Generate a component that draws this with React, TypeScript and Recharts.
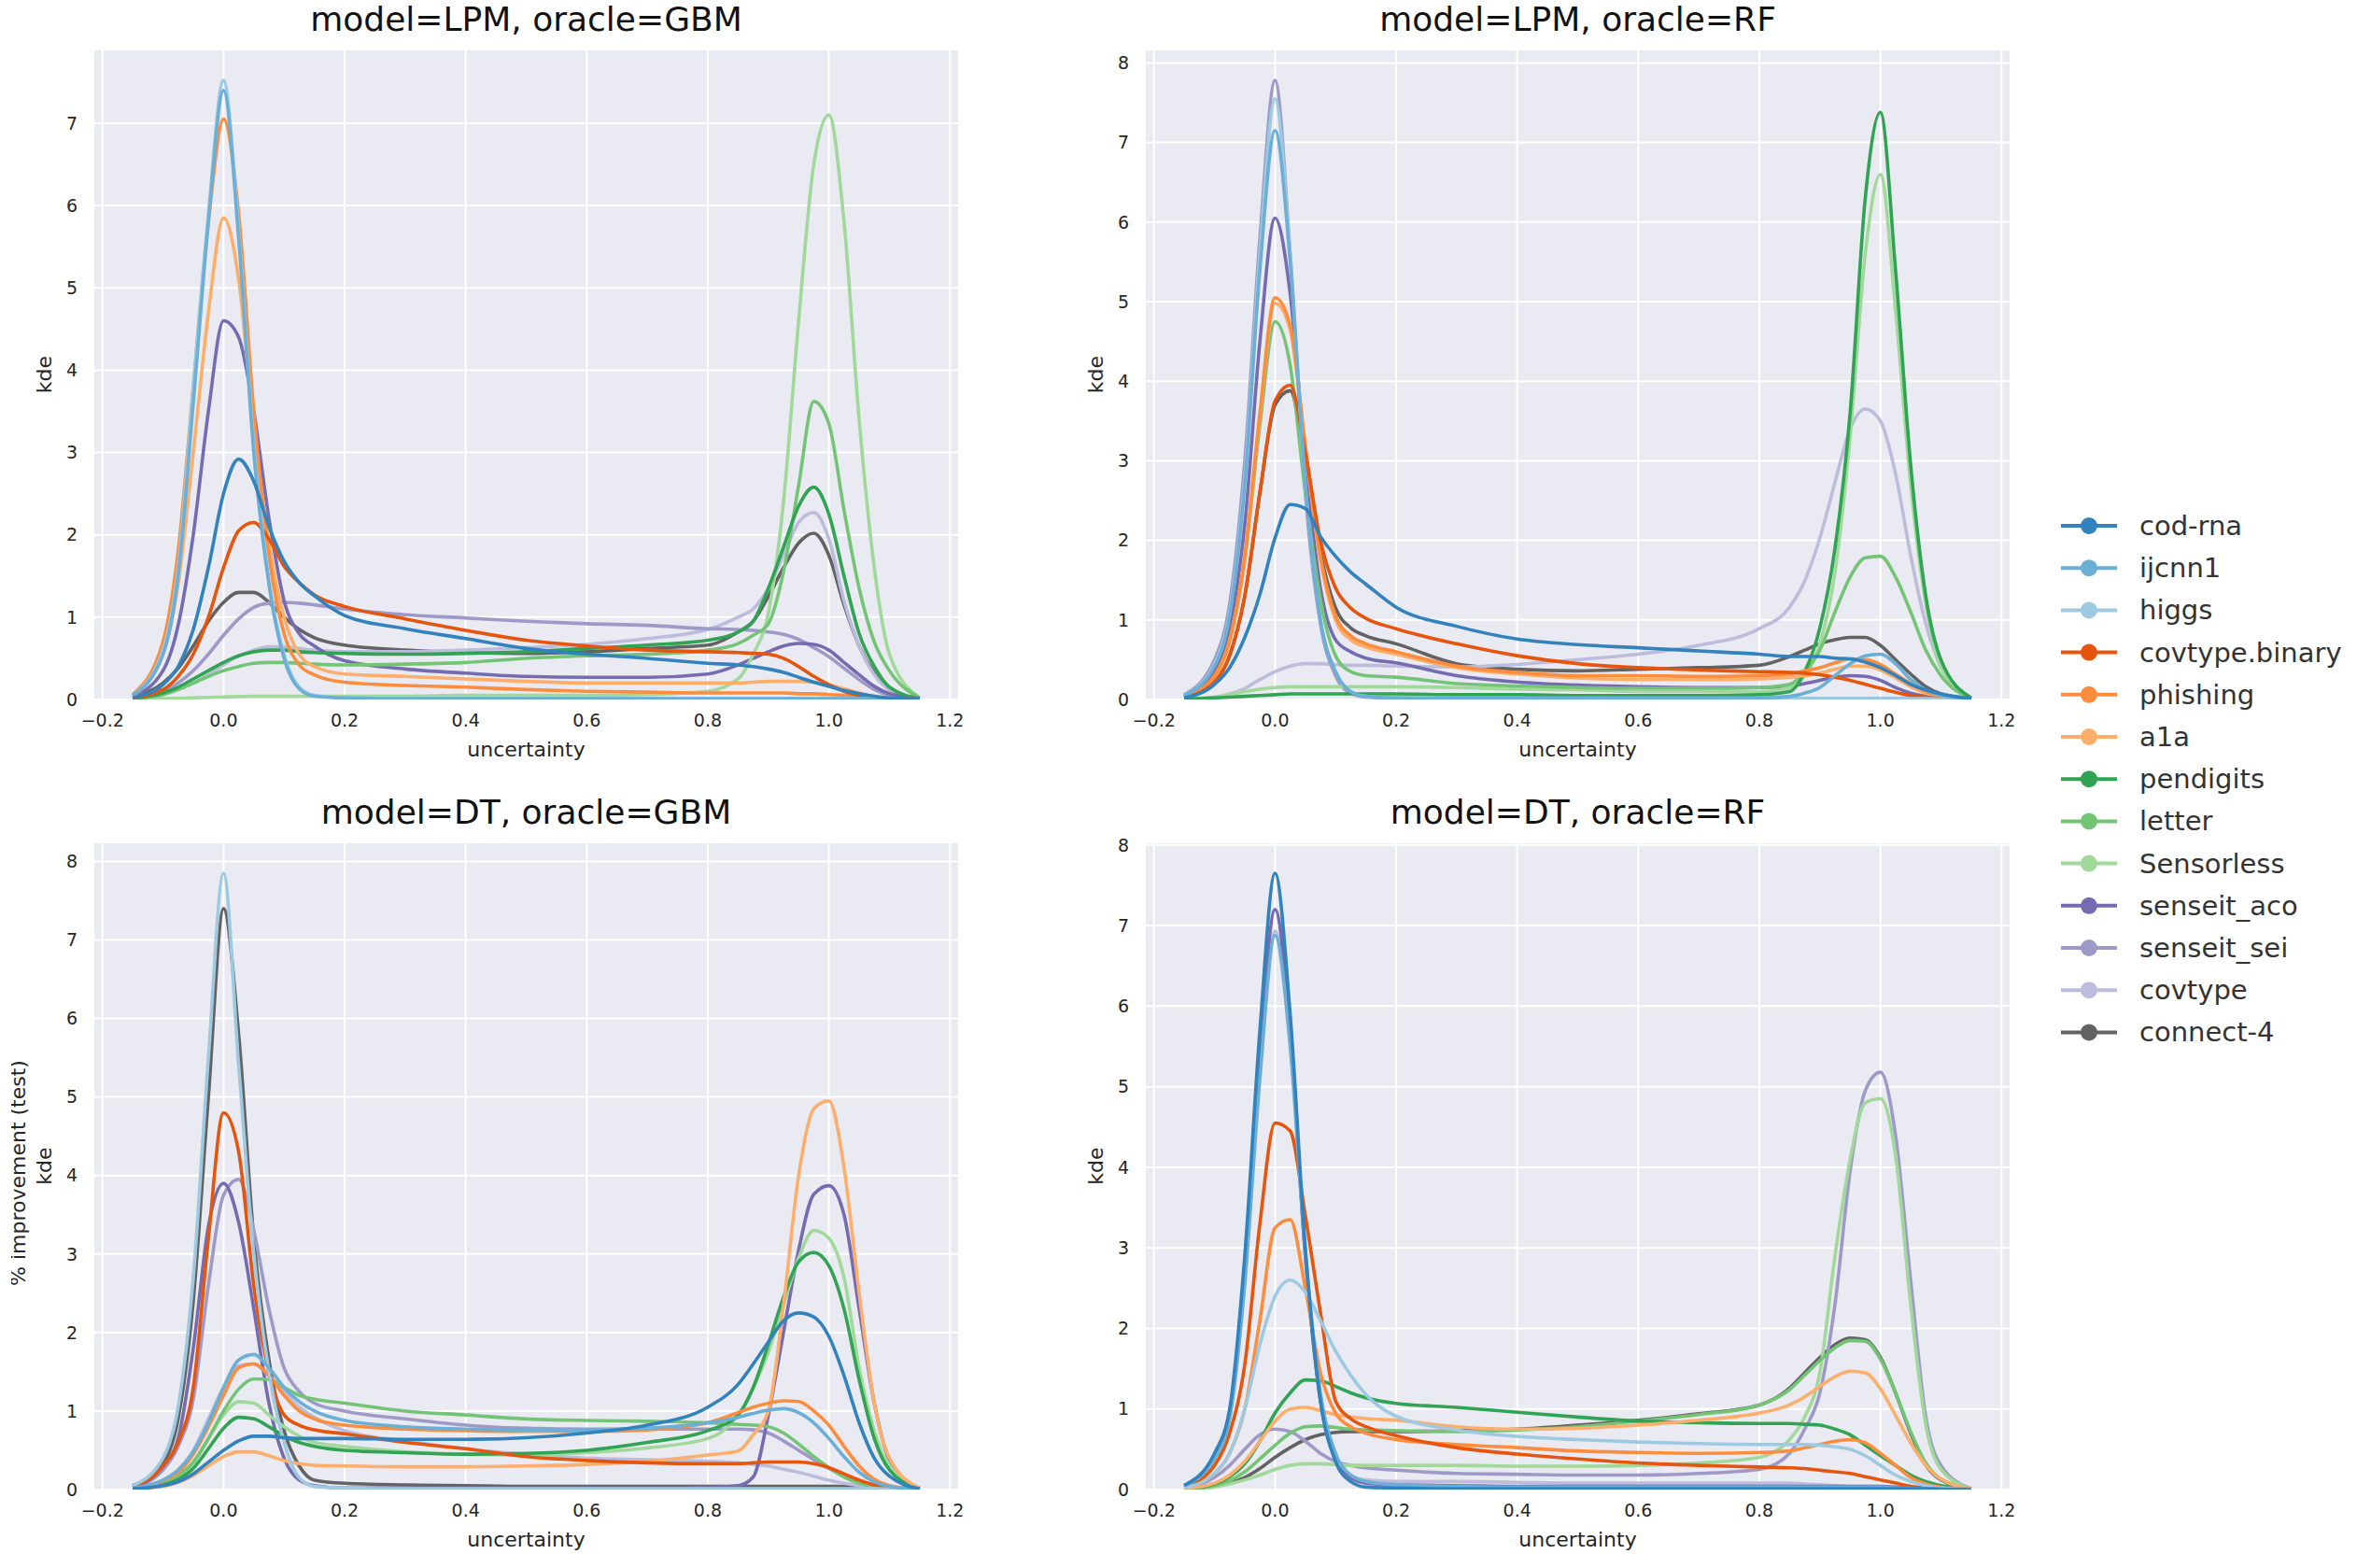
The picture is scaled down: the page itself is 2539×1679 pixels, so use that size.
import React from "react";
import { LineChart, Line, XAxis, YAxis, CartesianGrid } from "recharts";

// evaluation grid on the uncertainty axis (shared by every curve)
const UNCERTAINTY = [
  -0.15, -0.1, -0.075, -0.05, -0.025,
  0, 0.025, 0.05, 0.075, 0.1, 0.125, 0.15,
  0.2, 0.3, 0.4, 0.5, 0.6, 0.7, 0.8,
  0.85, 0.875, 0.9, 0.925, 0.95, 0.975,
  1.0, 1.025, 1.05, 1.075, 1.1, 1.15,
];

const DATASETS = [
  "cod-rna", "ijcnn1", "higgs", "covtype.binary", "phishing", "a1a", "pendigits",
  "letter", "Sensorless", "senseit_aco", "senseit_sei", "covtype", "connect-4",
];

const COLORS = [
  "#3182bd", "#6baed6", "#9ecae1", "#e6550d", "#fd8d3c", "#fdae6b", "#31a354",
  "#74c476", "#a1d99b", "#756bb1", "#9e9ac8", "#bcbddc", "#636363",
];

const X_TICKS = [-0.2, 0, 0.2, 0.4, 0.6, 0.8, 1.0, 1.2];
const Y_TICKS_7 = [0, 1, 2, 3, 4, 5, 6, 7];
const Y_TICKS_8 = [0, 1, 2, 3, 4, 5, 6, 7, 8];

// ---- model=LPM, oracle=GBM ----
const lpmGbmCodRna = [0.02, 0.18, 0.4, 0.85, 1.6, 2.5, 2.92, 2.65, 2.1, 1.68, 1.42, 1.26, 1.02, 0.86, 0.74, 0.62, 0.55, 0.5, 0.44, 0.42, 0.4, 0.37, 0.33, 0.27, 0.21, 0.16, 0.11, 0.07, 0.04, 0.02, 0.01];
const lpmGbmIjcnn1 = [0.05, 0.55, 1.5, 3.6, 5.8, 7.4, 5.6, 3.0, 1.4, 0.5, 0.13, 0.04, 0.02, 0.01, 0.01, 0.01, 0.01, 0.01, 0.01, 0.01, 0.01, 0.01, 0.01, 0.01, 0.01, 0.01, 0.01, 0.01, 0.01, 0.005, 0];
const lpmGbmHiggs = [0.05, 0.6, 1.6, 3.8, 5.9, 7.52, 5.7, 3.1, 1.45, 0.55, 0.15, 0.05, 0.02, 0.01, 0.01, 0.01, 0.01, 0.01, 0.01, 0.01, 0.01, 0.01, 0.01, 0.01, 0.01, 0.01, 0.01, 0.01, 0.01, 0.005, 0];
const lpmGbmCovtypeBinary = [0.02, 0.12, 0.28, 0.55, 1.0, 1.6, 2.05, 2.15, 1.95, 1.62, 1.42, 1.27, 1.13, 0.98, 0.84, 0.72, 0.65, 0.6, 0.58, 0.57, 0.56, 0.55, 0.5, 0.4, 0.28, 0.18, 0.1, 0.05, 0.03, 0.01, 0.005];
const lpmGbmPhishing = [0.06, 0.7, 1.8, 3.8, 5.8, 7.05, 5.9, 3.5, 1.75, 0.8, 0.42, 0.3, 0.21, 0.17, 0.15, 0.12, 0.1, 0.09, 0.08, 0.08, 0.08, 0.08, 0.08, 0.07, 0.07, 0.06, 0.05, 0.03, 0.02, 0.01, 0.005];
const lpmGbmA1a = [0.05, 0.55, 1.4, 3.0, 4.7, 5.85, 5.1, 3.3, 1.9, 1.0, 0.55, 0.4, 0.31, 0.28, 0.25, 0.22, 0.2, 0.2, 0.2, 0.2, 0.21, 0.22, 0.22, 0.22, 0.21, 0.18, 0.13, 0.08, 0.04, 0.02, 0.005];
const lpmGbmPendigits = [0.01, 0.08, 0.15, 0.25, 0.35, 0.45, 0.53, 0.58, 0.6, 0.6, 0.58, 0.57, 0.56, 0.55, 0.56, 0.58, 0.62, 0.66, 0.72, 0.82, 0.95, 1.35, 1.85, 2.35, 2.58, 2.25, 1.5, 0.8, 0.4, 0.15, 0.01];
const lpmGbmLetter = [0.01, 0.06, 0.12, 0.2, 0.28, 0.35, 0.4, 0.44, 0.45, 0.45, 0.44, 0.43, 0.42, 0.43, 0.45, 0.5, 0.53, 0.55, 0.6, 0.68, 0.78, 0.92, 1.55, 2.6, 3.62, 3.35, 2.3, 1.35, 0.7, 0.35, 0.02];
const lpmGbmSensorless = [0.005, 0.01, 0.015, 0.02, 0.025, 0.03, 0.035, 0.04, 0.04, 0.04, 0.04, 0.04, 0.04, 0.04, 0.05, 0.05, 0.05, 0.06, 0.1, 0.25, 0.55, 1.05, 2.4, 4.6, 6.5, 7.1, 5.8, 3.4, 1.6, 0.55, 0.02];
const lpmGbmSenseitAco = [0.04, 0.35, 0.9, 2.0, 3.5, 4.6, 4.4, 3.5, 2.2, 1.2, 0.8, 0.65, 0.47, 0.37, 0.32, 0.28, 0.27, 0.27, 0.31, 0.42, 0.5, 0.58, 0.65, 0.68, 0.67, 0.6, 0.45, 0.3, 0.16, 0.07, 0.01];
const lpmGbmSenseitSei = [0.02, 0.1, 0.2, 0.35, 0.55, 0.78, 0.98, 1.12, 1.17, 1.18, 1.17, 1.15, 1.1, 1.03, 0.99, 0.95, 0.92, 0.9, 0.86, 0.85, 0.84, 0.82, 0.79, 0.73, 0.63, 0.52, 0.38, 0.24, 0.12, 0.05, 0.01];
const lpmGbmCovtype = [0.01, 0.06, 0.12, 0.2, 0.3, 0.42, 0.53, 0.6, 0.64, 0.64, 0.62, 0.6, 0.58, 0.58, 0.6, 0.63, 0.67, 0.74, 0.85, 1.0, 1.1, 1.35, 1.75, 2.15, 2.27, 1.95, 1.2, 0.65, 0.3, 0.12, 0.01];
const lpmGbmConnect4 = [0.03, 0.2, 0.38, 0.65, 0.95, 1.18, 1.3, 1.3, 1.18, 1.0, 0.85, 0.75, 0.66, 0.6, 0.57, 0.56, 0.58, 0.62, 0.66, 0.82, 0.95, 1.25, 1.6, 1.9, 2.02, 1.75, 1.15, 0.65, 0.32, 0.12, 0.01];

// ---- model=LPM, oracle=RF ----
const lpmRfCodRna = [0.02, 0.19, 0.4, 0.78, 1.32, 2.03, 2.45, 2.4, 2.05, 1.8, 1.6, 1.45, 1.16, 0.92, 0.76, 0.69, 0.65, 0.61, 0.57, 0.54, 0.54, 0.54, 0.52, 0.51, 0.47, 0.4, 0.3, 0.19, 0.12, 0.07, 0.01];
const lpmRfIjcnn1 = [0.05, 0.42, 1.05, 2.7, 5.4, 7.15, 5.5, 2.7, 1.0, 0.35, 0.1, 0.04, 0.02, 0.02, 0.02, 0.02, 0.02, 0.02, 0.02, 0.04, 0.08, 0.15, 0.3, 0.45, 0.55, 0.57, 0.45, 0.25, 0.12, 0.05, 0.01];
const lpmRfHiggs = [0.05, 0.45, 1.1, 2.8, 5.6, 7.55, 5.6, 2.7, 1.0, 0.35, 0.1, 0.04, 0.02, 0.01, 0.01, 0.01, 0.01, 0.01, 0.01, 0.01, 0.01, 0.01, 0.01, 0.01, 0.01, 0.01, 0.01, 0.01, 0.01, 0.005, 0];
const lpmRfCovtypeBinary = [0.02, 0.22, 0.55, 1.3, 2.6, 3.75, 3.95, 3.1, 2.0, 1.4, 1.15, 1.02, 0.89, 0.7, 0.55, 0.45, 0.4, 0.37, 0.35, 0.34, 0.33, 0.31, 0.28, 0.24, 0.19, 0.14, 0.09, 0.05, 0.03, 0.01, 0.005];
const lpmRfPhishing = [0.03, 0.3, 0.75, 1.8, 3.6, 5.05, 4.7, 3.2, 1.8, 1.05, 0.8, 0.7, 0.6, 0.42, 0.34, 0.3, 0.3, 0.29, 0.3, 0.32, 0.36, 0.4, 0.46, 0.51, 0.5, 0.44, 0.32, 0.2, 0.1, 0.05, 0.01];
const lpmRfA1a = [0.03, 0.28, 0.72, 1.75, 3.55, 4.98, 4.65, 3.15, 1.75, 1.0, 0.75, 0.66, 0.57, 0.4, 0.32, 0.27, 0.25, 0.25, 0.26, 0.28, 0.3, 0.33, 0.38, 0.42, 0.42, 0.37, 0.27, 0.16, 0.08, 0.04, 0.01];
const lpmRfPendigits = [0.005, 0.02, 0.03, 0.04, 0.05, 0.06, 0.07, 0.07, 0.07, 0.07, 0.07, 0.07, 0.07, 0.06, 0.06, 0.05, 0.05, 0.05, 0.06, 0.1, 0.35, 0.9, 1.9, 3.6, 6.3, 7.38, 5.4, 2.95, 1.3, 0.5, 0.02];
const lpmRfLetter = [0.03, 0.3, 0.75, 1.75, 3.45, 4.75, 4.2, 2.6, 1.25, 0.55, 0.35, 0.3, 0.28, 0.2, 0.17, 0.15, 0.14, 0.14, 0.15, 0.19, 0.35, 0.62, 1.1, 1.54, 1.78, 1.8, 1.54, 1.1, 0.62, 0.3, 0.01];
const lpmRfSensorless = [0.005, 0.03, 0.06, 0.1, 0.13, 0.15, 0.16, 0.16, 0.16, 0.16, 0.16, 0.16, 0.16, 0.15, 0.13, 0.12, 0.1, 0.1, 0.1, 0.15, 0.3, 0.7, 1.6, 3.3, 5.6, 6.6, 4.9, 2.7, 1.2, 0.4, 0.02];
const lpmRfSenseitAco = [0.04, 0.35, 0.9, 2.2, 4.5, 6.05, 5.1, 3.0, 1.4, 0.75, 0.6, 0.52, 0.46, 0.3, 0.22, 0.18, 0.16, 0.15, 0.15, 0.17, 0.2, 0.24, 0.28, 0.3, 0.29, 0.24, 0.15, 0.08, 0.04, 0.02, 0.005];
const lpmRfSenseitSei = [0.06, 0.5, 1.2, 3.0, 5.8, 7.78, 5.6, 2.6, 0.95, 0.3, 0.08, 0.03, 0.02, 0.01, 0.01, 0.01, 0.01, 0.01, 0.01, 0.01, 0.01, 0.01, 0.01, 0.01, 0.01, 0.01, 0.01, 0.01, 0.01, 0.005, 0];
const lpmRfCovtype = [0.005, 0.03, 0.07, 0.14, 0.25, 0.35, 0.42, 0.45, 0.45, 0.44, 0.43, 0.43, 0.42, 0.41, 0.44, 0.5, 0.57, 0.68, 0.89, 1.16, 1.49, 2.03, 2.73, 3.4, 3.65, 3.5, 2.84, 1.81, 0.95, 0.41, 0.01];
const lpmRfConnect4 = [0.02, 0.22, 0.55, 1.3, 2.6, 3.7, 3.88, 3.0, 1.85, 1.15, 0.9, 0.8, 0.7, 0.45, 0.38, 0.36, 0.38, 0.4, 0.43, 0.54, 0.62, 0.7, 0.75, 0.78, 0.78, 0.68, 0.5, 0.32, 0.16, 0.07, 0.01];

// ---- model=DT, oracle=GBM ----
const dtGbmCodRna = [0.01, 0.05, 0.1, 0.2, 0.35, 0.5, 0.62, 0.68, 0.68, 0.66, 0.65, 0.65, 0.65, 0.64, 0.64, 0.66, 0.72, 0.82, 1.05, 1.34, 1.6, 1.88, 2.15, 2.25, 2.2, 1.95, 1.45, 0.85, 0.4, 0.17, 0.01];
const dtGbmIjcnn1 = [0.02, 0.12, 0.25, 0.48, 0.85, 1.3, 1.65, 1.72, 1.55, 1.3, 1.12, 1.0, 0.88, 0.8, 0.77, 0.76, 0.76, 0.78, 0.85, 0.92, 0.97, 1.01, 1.03, 0.98, 0.85, 0.65, 0.42, 0.22, 0.1, 0.04, 0.005];
const dtGbmHiggs = [0.05, 0.4, 1.05, 2.7, 5.5, 7.85, 5.4, 3.0, 1.5, 0.6, 0.15, 0.04, 0.02, 0.01, 0.01, 0.01, 0.01, 0.01, 0.01, 0.01, 0.01, 0.01, 0.01, 0.01, 0.01, 0.01, 0.01, 0.01, 0.01, 0.005, 0];
const dtGbmCovtypeBinary = [0.03, 0.3, 0.6, 1.3, 3.2, 4.8, 4.3, 2.6, 1.5, 0.95, 0.82, 0.76, 0.71, 0.6, 0.52, 0.42, 0.37, 0.34, 0.33, 0.33, 0.34, 0.35, 0.35, 0.35, 0.33, 0.28, 0.2, 0.12, 0.06, 0.03, 0.005];
const dtGbmPhishing = [0.02, 0.11, 0.22, 0.45, 0.8, 1.2, 1.55, 1.6, 1.45, 1.2, 1.0, 0.9, 0.82, 0.77, 0.75, 0.74, 0.74, 0.76, 0.85, 0.98, 1.05, 1.1, 1.13, 1.12, 1.0, 0.82, 0.55, 0.3, 0.13, 0.05, 0.005];
const dtGbmA1a = [0.01, 0.04, 0.09, 0.18, 0.3, 0.42, 0.48, 0.48, 0.43, 0.37, 0.33, 0.31, 0.3, 0.29, 0.29, 0.3, 0.32, 0.36, 0.44, 0.49, 0.7, 1.0, 2.35, 4.0, 4.85, 4.95, 4.1, 2.5, 1.1, 0.4, 0.02];
const dtGbmPendigits = [0.01, 0.06, 0.13, 0.27, 0.52, 0.78, 0.92, 0.9, 0.8, 0.68, 0.6, 0.55, 0.5, 0.47, 0.45, 0.46, 0.5, 0.6, 0.75, 0.95, 1.3, 1.85, 2.45, 2.9, 3.02, 2.85, 2.3, 1.4, 0.65, 0.25, 0.01];
const dtGbmLetter = [0.01, 0.08, 0.18, 0.35, 0.65, 1.0, 1.28, 1.41, 1.4, 1.3, 1.2, 1.15, 1.1, 1.0, 0.95, 0.9, 0.88, 0.87, 0.85, 0.83, 0.82, 0.8, 0.72, 0.58, 0.42, 0.28, 0.16, 0.08, 0.04, 0.015, 0.005];
const dtGbmSensorless = [0.01, 0.07, 0.16, 0.33, 0.65, 0.95, 1.12, 1.1, 0.95, 0.8, 0.68, 0.6, 0.55, 0.48, 0.45, 0.44, 0.47, 0.53, 0.65, 0.95, 1.3, 1.75, 2.35, 2.95, 3.3, 3.2, 2.7, 1.55, 0.75, 0.3, 0.01];
const dtGbmSenseitAco = [0.03, 0.3, 0.65, 1.8, 3.35, 3.9, 3.4, 2.3, 1.1, 0.4, 0.12, 0.05, 0.02, 0.02, 0.02, 0.02, 0.02, 0.02, 0.03, 0.05, 0.16, 0.95, 2.0, 3.05, 3.76, 3.87, 3.5, 2.3, 1.1, 0.38, 0.01];
const dtGbmSenseitSei = [0.03, 0.25, 0.55, 1.15, 2.6, 3.75, 3.95, 3.3, 2.3, 1.55, 1.25, 1.1, 1.0, 0.9, 0.82, 0.78, 0.77, 0.77, 0.77, 0.77, 0.76, 0.72, 0.62, 0.5, 0.38, 0.27, 0.17, 0.1, 0.05, 0.02, 0.005];
const dtGbmCovtype = [0.02, 0.12, 0.25, 0.5, 0.9, 1.3, 1.58, 1.6, 1.45, 1.25, 1.05, 0.92, 0.75, 0.62, 0.52, 0.45, 0.4, 0.38, 0.36, 0.34, 0.32, 0.3, 0.26, 0.22, 0.17, 0.12, 0.08, 0.05, 0.03, 0.02, 0.005];
const dtGbmConnect4 = [0.05, 0.33, 0.9, 2.4, 5.0, 7.4, 5.8, 3.2, 1.65, 0.75, 0.3, 0.12, 0.08, 0.06, 0.05, 0.04, 0.04, 0.04, 0.04, 0.04, 0.04, 0.04, 0.04, 0.04, 0.04, 0.04, 0.04, 0.04, 0.03, 0.02, 0.01];

// ---- model=DT, oracle=RF ----
const dtRfCodRna = [0.05, 0.45, 1.0, 2.9, 5.7, 7.65, 5.9, 3.0, 1.1, 0.35, 0.1, 0.03, 0.02, 0.01, 0.01, 0.01, 0.01, 0.01, 0.01, 0.01, 0.01, 0.01, 0.01, 0.01, 0.01, 0.01, 0.01, 0.01, 0.01, 0.005, 0];
const dtRfIjcnn1 = [0.05, 0.38, 0.88, 2.55, 5.1, 6.88, 5.5, 2.95, 1.2, 0.45, 0.18, 0.1, 0.06, 0.04, 0.03, 0.03, 0.03, 0.03, 0.03, 0.03, 0.03, 0.03, 0.03, 0.03, 0.03, 0.03, 0.02, 0.015, 0.01, 0.005, 0];
const dtRfHiggs = [0.02, 0.2, 0.45, 1.0, 1.8, 2.4, 2.6, 2.45, 2.1, 1.72, 1.42, 1.18, 0.91, 0.74, 0.66, 0.62, 0.59, 0.57, 0.56, 0.56, 0.56, 0.55, 0.53, 0.5, 0.42, 0.3, 0.18, 0.1, 0.05, 0.02, 0.005];
const dtRfCovtypeBinary = [0.03, 0.3, 0.7, 1.55, 3.3, 4.55, 4.45, 3.4, 2.2, 1.1, 0.88, 0.78, 0.67, 0.52, 0.44, 0.38, 0.33, 0.3, 0.28, 0.27, 0.26, 0.24, 0.22, 0.2, 0.16, 0.12, 0.08, 0.04, 0.02, 0.01, 0.005];
const dtRfPhishing = [0.02, 0.2, 0.45, 1.0, 2.1, 3.25, 3.35, 2.5, 1.45, 0.95, 0.78, 0.7, 0.62, 0.56, 0.52, 0.48, 0.46, 0.45, 0.46, 0.48, 0.52, 0.56, 0.6, 0.62, 0.58, 0.45, 0.3, 0.15, 0.07, 0.03, 0.005];
const dtRfA1a = [0.01, 0.08, 0.18, 0.35, 0.6, 0.85, 1.0, 1.02, 0.98, 0.93, 0.9, 0.88, 0.86, 0.78, 0.75, 0.76, 0.8, 0.86, 0.95, 1.05, 1.15, 1.28, 1.4, 1.47, 1.45, 1.25, 0.92, 0.58, 0.3, 0.13, 0.01];
const dtRfPendigits = [0.01, 0.07, 0.16, 0.32, 0.6, 0.95, 1.2, 1.36, 1.35, 1.28, 1.2, 1.14, 1.07, 1.02, 0.96, 0.9, 0.85, 0.83, 0.82, 0.82, 0.81, 0.8, 0.75, 0.68, 0.55, 0.42, 0.3, 0.18, 0.1, 0.05, 0.005];
const dtRfLetter = [0.01, 0.05, 0.11, 0.22, 0.38, 0.55, 0.7, 0.78, 0.79, 0.77, 0.75, 0.74, 0.73, 0.72, 0.74, 0.78, 0.85, 0.93, 1.05, 1.24, 1.42, 1.6, 1.76, 1.85, 1.84, 1.62, 1.2, 0.72, 0.33, 0.13, 0.01];
const dtRfSensorless = [0.005, 0.03, 0.07, 0.12, 0.18, 0.25, 0.3, 0.32, 0.32, 0.31, 0.3, 0.3, 0.3, 0.3, 0.29, 0.29, 0.3, 0.33, 0.4, 0.62, 0.9, 1.45, 2.9, 4.1, 4.8, 4.85, 4.15, 2.3, 0.8, 0.25, 0.01];
const dtRfSenseitAco = [0.05, 0.42, 0.95, 2.75, 5.4, 7.2, 5.7, 2.9, 1.1, 0.4, 0.15, 0.08, 0.06, 0.05, 0.04, 0.04, 0.04, 0.04, 0.04, 0.04, 0.04, 0.04, 0.04, 0.04, 0.04, 0.04, 0.03, 0.02, 0.01, 0.005, 0];
const dtRfSenseitSei = [0.02, 0.15, 0.3, 0.5, 0.68, 0.75, 0.72, 0.6, 0.45, 0.35, 0.3, 0.27, 0.24, 0.2, 0.19, 0.18, 0.18, 0.2, 0.25, 0.45, 0.75, 1.2, 2.3, 3.95, 4.95, 5.18, 4.4, 2.6, 0.9, 0.3, 0.01];
const dtRfCovtype = [0.05, 0.4, 0.9, 2.6, 5.2, 6.93, 5.6, 2.9, 1.15, 0.42, 0.18, 0.12, 0.1, 0.1, 0.09, 0.08, 0.08, 0.08, 0.08, 0.08, 0.07, 0.06, 0.05, 0.04, 0.03, 0.02, 0.015, 0.01, 0.005, 0, 0];
const dtRfConnect4 = [0.01, 0.04, 0.08, 0.15, 0.26, 0.4, 0.52, 0.62, 0.68, 0.71, 0.72, 0.72, 0.72, 0.73, 0.75, 0.8, 0.86, 0.94, 1.05, 1.26, 1.45, 1.64, 1.8, 1.88, 1.86, 1.64, 1.2, 0.7, 0.3, 0.12, 0.01];

const PANELS = [
  {
    title: "model=LPM, oracle=GBM",
    left: 0, top: 0, plotHeight: 696, yTicks: Y_TICKS_7,
    series: [lpmGbmCodRna, lpmGbmIjcnn1, lpmGbmHiggs, lpmGbmCovtypeBinary, lpmGbmPhishing, lpmGbmA1a, lpmGbmPendigits, lpmGbmLetter, lpmGbmSensorless, lpmGbmSenseitAco, lpmGbmSenseitSei, lpmGbmCovtype, lpmGbmConnect4],
  },
  {
    title: "model=LPM, oracle=RF",
    left: 1126, top: 0, plotHeight: 696, yTicks: Y_TICKS_8,
    series: [lpmRfCodRna, lpmRfIjcnn1, lpmRfHiggs, lpmRfCovtypeBinary, lpmRfPhishing, lpmRfA1a, lpmRfPendigits, lpmRfLetter, lpmRfSensorless, lpmRfSenseitAco, lpmRfSenseitSei, lpmRfCovtype, lpmRfConnect4],
  },
  {
    title: "model=DT, oracle=GBM",
    left: 0, top: 849, plotHeight: 693, yTicks: Y_TICKS_8,
    series: [dtGbmCodRna, dtGbmIjcnn1, dtGbmHiggs, dtGbmCovtypeBinary, dtGbmPhishing, dtGbmA1a, dtGbmPendigits, dtGbmLetter, dtGbmSensorless, dtGbmSenseitAco, dtGbmSenseitSei, dtGbmCovtype, dtGbmConnect4],
  },
  {
    title: "model=DT, oracle=RF",
    left: 1126, top: 849, plotHeight: 693, yTicks: Y_TICKS_8,
    series: [dtRfCodRna, dtRfIjcnn1, dtRfHiggs, dtRfCovtypeBinary, dtRfPhishing, dtRfA1a, dtRfPendigits, dtRfLetter, dtRfSensorless, dtRfSenseitAco, dtRfSenseitSei, dtRfCovtype, dtRfConnect4],
  },
];

const FONT = "'DejaVu Sans', Verdana, sans-serif";
const TEXT = "#262626";
const Y_AXIS_W = 100;
const PLOT_W = 927;
const MARGIN_TOP = 53;
const X_AXIS_H = 81;

const fmtX = (v: number) => (v < 0 ? `\u2212${Math.abs(v).toFixed(1)}` : v.toFixed(1));

function KdePanel({ series, yTicks, plotHeight, left, top }: any) {
  const rows = UNCERTAINTY.map((u, i) => {
    const row: Record<string, number> = { u };
    series.forEach((s: number[], k: number) => {
      row[`s${k}`] = s[i];
    });
    return row;
  });
  const peak = Math.max(...series.flat());
  // seaborn draws the first hue level last, so it ends up on top
  const order = DATASETS.map((_, k) => k).reverse();

  return (
    <div style={{ position: "absolute", left, top }}>
      <LineChart
        width={Y_AXIS_W + PLOT_W + 33}
        height={MARGIN_TOP + plotHeight + X_AXIS_H}
        data={rows}
        margin={{ top: MARGIN_TOP, right: 33, bottom: 0, left: 0 }}
      >
        <CartesianGrid stroke="#ffffff" strokeWidth={2} fill="#eaeaf2" fillOpacity={1} />
        <XAxis
          dataKey="u"
          type="number"
          domain={[-0.215, 1.215]}
          ticks={X_TICKS}
          interval={0}
          allowDataOverflow
          tickFormatter={fmtX}
          axisLine={false}
          tickLine={false}
          tickMargin={10}
          height={X_AXIS_H}
          tick={{ fontSize: 19, fill: TEXT, fontFamily: FONT }}
          label={{ value: "uncertainty", position: "insideBottom", offset: 20, fontSize: 22, fill: TEXT, fontFamily: FONT }}
        />
        <YAxis
          type="number"
          domain={[0, peak * 1.05]}
          ticks={yTicks}
          interval={0}
          allowDataOverflow
          axisLine={false}
          tickLine={false}
          tickMargin={11}
          width={Y_AXIS_W}
          tick={{ fontSize: 19, fill: TEXT, fontFamily: FONT }}
        />
        {order.map((k) => (
          <Line
            key={DATASETS[k]}
            type="monotone"
            dataKey={`s${k}`}
            name={DATASETS[k]}
            stroke={COLORS[k]}
            strokeWidth={3.6}
            dot={false}
            isAnimationActive={false}
          />
        ))}
      </LineChart>
    </div>
  );
}

export default function App() {
  return (
    <div
      style={{
        position: "absolute",
        left: 0,
        top: 0,
        width: 2539,
        height: 1679,
        background: "#ffffff",
        fontFamily: FONT,
        overflow: "hidden",
      }}
    >
      {PANELS.map((p) => (
        <KdePanel key={p.title} {...p} />
      ))}
      <svg width={2539} height={1679} style={{ position: "absolute", left: 0, top: 0, pointerEvents: "none" }}>
        <defs>
          <clipPath id="leftEdge">
            <rect x={12} y={0} width={200} height={1679} />
          </clipPath>
        </defs>
        {PANELS.map((p) => {
          const plotLeft = p.left + Y_AXIS_W;
          const plotTop = p.top + MARGIN_TOP;
          const cy = plotTop + p.plotHeight / 2;
          return (
            <g key={p.title} fontFamily={FONT}>
              <text x={plotLeft + PLOT_W / 2} y={plotTop - 20} textAnchor="middle" fontSize={36} fill="#111">
                {p.title}
              </text>
              <text
                transform={`translate(${plotLeft - 45},${cy}) rotate(-90)`}
                textAnchor="middle"
                fontSize={22}
                fill={TEXT}
              >
                kde
              </text>
            </g>
          );
        })}
        {/* leftover outer label, cut by the figure edge */}
        <g clipPath="url(#leftEdge)">
          <text transform="translate(27,1377) rotate(-90)" fontSize={22} fill={TEXT} fontFamily={FONT}>
            % improvement (test)
          </text>
        </g>
        <g fontFamily={FONT}>
          {DATASETS.map((name, k) => {
            const y = 563 + k * 45.2;
            return (
              <g key={name}>
                <line x1={2207} x2={2267} y1={y} y2={y} stroke={COLORS[k]} strokeWidth={4} />
                <circle cx={2237} cy={y} r={9} fill={COLORS[k]} />
                <text x={2291} y={y + 10} fontSize={29} fill="#333">
                  {name}
                </text>
              </g>
            );
          })}
        </g>
      </svg>
    </div>
  );
}
